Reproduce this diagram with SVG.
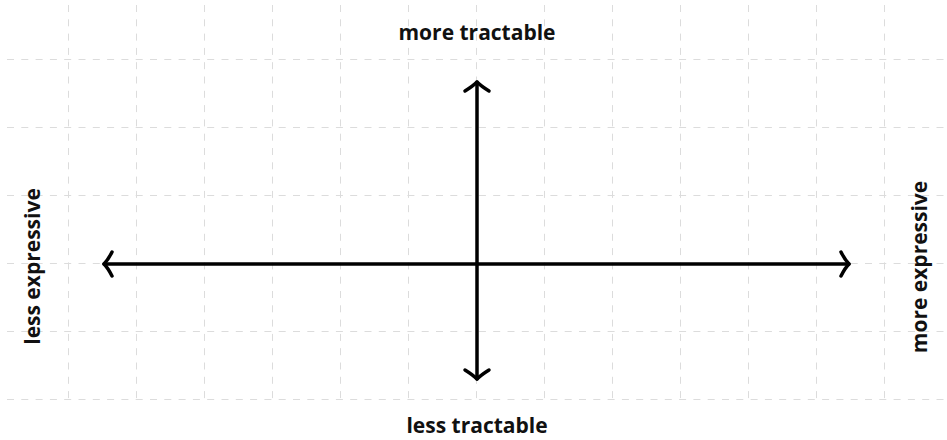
<svg xmlns="http://www.w3.org/2000/svg" width="947" height="440" viewBox="0 0 947 440">
<style>
.grid line{stroke:#dcdcdc;stroke-width:1;stroke-dasharray:7 7.3;fill:none}
.axis{stroke:#000;stroke-width:3.5;fill:none;stroke-linecap:round}
.head{stroke:#000;stroke-width:3.5;fill:none;stroke-linecap:round;stroke-linejoin:round}
.lbl{font-family:"Open Sans","Noto Sans","Liberation Sans",sans-serif;font-weight:bold;font-size:21px;fill:#111;text-anchor:middle}
</style>
<rect width="947" height="440" fill="#fff"/>
<g class="grid">
<line x1="68.5" y1="5" x2="68.5" y2="400"/>
<line x1="136.5" y1="5" x2="136.5" y2="400"/>
<line x1="204.5" y1="5" x2="204.5" y2="400"/>
<line x1="272.5" y1="5" x2="272.5" y2="400"/>
<line x1="340.5" y1="5" x2="340.5" y2="400"/>
<line x1="408.5" y1="5" x2="408.5" y2="400"/>
<line x1="476.5" y1="5" x2="476.5" y2="400"/>
<line x1="544.5" y1="5" x2="544.5" y2="400"/>
<line x1="612.5" y1="5" x2="612.5" y2="400"/>
<line x1="680.5" y1="5" x2="680.5" y2="400"/>
<line x1="748.5" y1="5" x2="748.5" y2="400"/>
<line x1="816.5" y1="5" x2="816.5" y2="400"/>
<line x1="884.5" y1="5" x2="884.5" y2="400"/>
<line x1="7" y1="59.5" x2="947" y2="59.5"/>
<line x1="7" y1="127.5" x2="947" y2="127.5"/>
<line x1="7" y1="195.5" x2="947" y2="195.5"/>
<line x1="7" y1="263.5" x2="947" y2="263.5"/>
<line x1="7" y1="331.5" x2="947" y2="331.5"/>
<line x1="7" y1="399.5" x2="947" y2="399.5"/>
</g>
<g id="connectors">
<line class="axis" x1="104" y1="264" x2="849" y2="264"/>
<line class="axis" x1="477" y1="82" x2="477" y2="379"/>
<path class="head" d="M112,252 Q108,260 104,264 Q108,268 112,276"/>
<path class="head" d="M841,252 Q845,260 849,264 Q845,268 841,276"/>
<path class="head" d="M465,91 Q473,86 477,82 Q481,86 489,91"/>
<path class="head" d="M465,370 Q473,375 477,379 Q481,375 489,370"/>
</g>
<g id="label-top"><text class="lbl" x="477" y="40">more tractable</text></g>
<g id="label-bottom"><text class="lbl" x="477" y="433">less tractable</text></g>
<g id="label-left"><text class="lbl" transform="translate(40,266.5) rotate(-90)">less expressive</text></g>
<g id="label-right"><text class="lbl" transform="translate(927,267) rotate(-90)">more expressive</text></g>
</svg>
